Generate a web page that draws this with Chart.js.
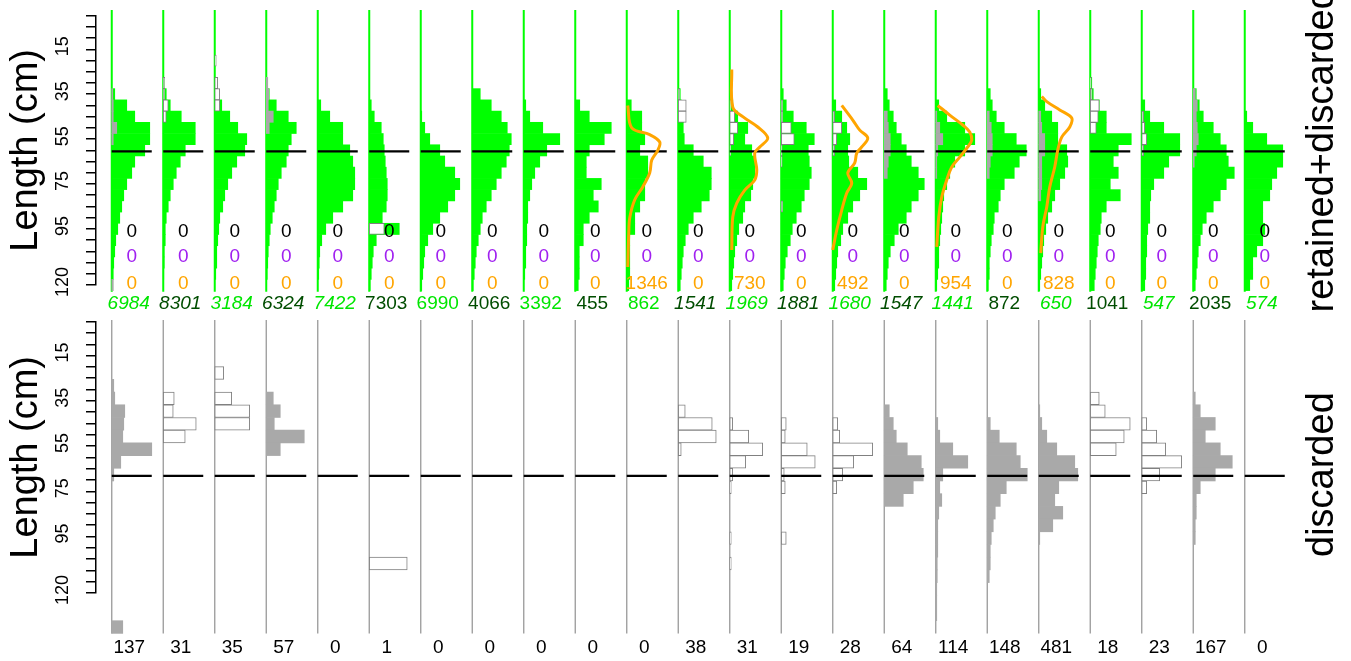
<!DOCTYPE html>
<html>
<head>
<meta charset="utf-8">
<script src="https://cdn.jsdelivr.net/npm/chart.js@4.4.1/dist/chart.umd.min.js"></script>
<style>
  html, body { margin: 0; padding: 0; background: #fff; }
  #wrap { position: relative; width: 1351px; height: 661px; overflow: hidden; }
  canvas { position: absolute; left: 0; }
  #topChart { top: 0; }
  #bottomChart { top: 320px; }
</style>
</head>
<body>
<div id="wrap">
  <canvas id="topChart" width="1351" height="320"></canvas>
  <canvas id="bottomChart" width="1351" height="341"></canvas>
</div>
<script>
// length classes (cm), 5 cm bins
const lengthBins = [20, 25, 30, 35, 40, 45, 50, 55, 60, 65, 70, 75, 80, 85, 90, 95, 100, 105, 110, 115, 120];
const tickLabels = [15, 35, 55, 75, 95, 120];
const refLength = 60.5;

// numbers printed under each column
const totals = [6984, 8301, 3184, 6324, 7422, 7303, 6990, 4066, 3392, 455, 862, 1541, 1969, 1881, 1680, 1547, 1441, 872, 650, 1041, 547, 2035, 574];
const totalItalic = [1,1,1,1,1,0,0,0,0,0,0,1,1,1,1,1,1,0,1,0,1,0,1];
const discards = [137, 31, 35, 57, 0, 1, 0, 0, 0, 0, 0, 38, 31, 19, 28, 64, 114, 148, 481, 18, 23, 167, 0];
const blackCounts = [0,0,0,0,0,0,0,0,0,0,0,0,0,0,0,0,0,0,0,0,0,0,0];
const purpleCounts = [0,0,0,0,0,0,0,0,0,0,0,0,0,0,0,0,0,0,0,0,0,0,0];
const orangeCounts = [0,0,0,0,0,0,0,0,0,0,1346,0,730,0,492,0,954,0,828,0,0,0,0];

// retained+discarded length distribution (%) per column, aligned with lengthBins
const retDisc = [
  [0,0,0,1.2,6,9.2,15.2,15.2,13.2,9.2,8,6,4.8,4,3.2,2.4,1.6,1.2,0.8,0.6,0.4],
  [0,0,0.4,1.2,2.8,7.2,12.8,12.8,8.8,6.8,5.2,4,2.8,2,1.2,0.8,0.8,0.4,0.4,0.2,0],
  [0,0,0,0.4,2.8,6,9.2,12.8,12,8.8,6.8,5.2,4,3.2,2,1.6,1.2,0.8,0.8,0.4,0],
  [0,0,0,1.2,4,8.8,12,10,8.8,8,6,4.8,4,3.2,2.4,1.6,1.2,0.8,0.6,0.4,0],
  [0,0,0,0,1.2,4.8,10,10,12.8,14,14.8,14.8,14,10,6,3.2,1.6,0.8,0.6,0.4,0],
  [0,0,0,0,0.8,2,4.8,5.6,6,6.4,6.8,7.2,7.2,6.8,5.2,12,2.8,1.6,1.2,0.8,0.4],
  [0,0,0,0,0,0.4,1.6,3.6,7.6,9.6,13.6,15.6,13.6,10.8,7.6,4.8,2.8,1.6,1.2,0.8,0.4],
  [0,0,0,3.2,7.6,11.6,14,15.6,14.8,13.6,11.6,9.6,7.6,5.6,4,3.2,2.4,1.6,1.2,0.8,0.4],
  [0,0,0,0,0.8,2.4,7.6,14.4,9.2,6.4,4.4,3.2,2.4,1.6,1.6,1.2,1.2,0.8,0.8,0.4,0],
  [0,0,0,0,1.8,5.6,14.4,11.6,5.6,4.4,4.4,10.4,7.2,9.2,5.6,3.2,3.2,1.6,1.6,1.6,1.2],
  [0,0,0,0,1.8,6,6,7.2,5.2,8.4,8.4,7.2,7.2,5.2,3.2,3.2,1.2,1.2,1.2,1.2,0.8],
  [0,0,0,0.8,1.2,2,2,2.4,6,10,13.2,13.2,12.4,9.2,6,4,2.8,2,1.6,1.2,0.8],
  [0,0,0,0,1.2,3.2,7.2,6,8.8,10,10,9.2,8.4,6,5.2,3.6,2.8,2,1.6,1.2,0.8],
  [0,0,0,0.8,2,4.8,10,13.2,10.8,11.2,12,11.2,9.2,8,6,4.4,3.6,2.4,1.6,1.2,0.8],
  [0,0,0,0,1.2,3.6,5.6,6.8,6,6.4,10,13.6,10.8,8,6,4,3.2,2,1.6,1.2,0.8],
  [0,0,0,1.2,2,3.6,4.8,6.8,8.8,10.8,13.6,16,13.6,10.8,8.8,5.6,4,2.4,1.6,1.2,0.8],
  [0,0,0,0,1.2,4.4,11.6,15.6,11.6,7.6,5.6,4.4,3.2,2.8,2.4,2,1.6,1.2,1.2,0.8,0.4],
  [0,0,0,1.2,2,3.6,6.8,11.6,15.6,12.8,10.8,6.8,5.2,4.4,2.8,2.4,1.6,1.2,0.8,0.8,0.4],
  [0,0,0,0.8,2.4,5.2,7.6,7.6,11.2,11.6,10.4,8.4,6.4,5.2,3.6,2.8,2,1.6,1.2,0.8,0.4],
  [0,0,0.6,1.2,3.6,6.4,6.4,16.4,11.2,9.2,11.2,8,12,6.4,4.4,4,3.2,2.8,2.4,2,1.6],
  [0,0,0,0,1.2,3.2,8.8,15.2,15.2,10.8,8.8,4.8,3.6,3.2,3.2,2.4,2,2,1.6,1.6,1.2],
  [0,0,0,1.2,2.4,4,8,10.8,13.2,14,16.4,13.2,10.8,8,5.2,3.6,2.8,2,1.6,1.2,0.8],
  [0,0,0,0,0,0.8,3.2,8.8,15.2,15.2,12.8,10.8,10,7.2,7.2,8,7.2,4.8,3.2,3.2,2]
];

// discards drawn inside the top panel: [length, %]
const discTop = [
  [[35,0.4],[40,0.6],[45,0.6],[50,2],[55,0.6],[120,0.6]],
  [[30,0.6],[35,0.6],[40,2],[45,1.2]],
  [[20,0.6],[30,1.2],[35,2],[40,2]],
  [[30,0.6],[35,1],[40,0.8],[45,2.8],[50,1.2]],
  [],
  [[95,6]],
  [], [], [], [], [],
  [[35,0.6],[40,3.2],[45,3.2]],
  [[40,0.4],[45,2],[50,3.2],[55,1.6],[60,0.4]],
  [[40,0.6],[45,0.6],[50,4],[55,5.2],[60,0.4],[65,0.4],[85,0.6]],
  [[45,0.8],[50,3.6],[55,1.6],[60,0.8]],
  [[45,1.2],[50,1.6],[55,2.4],[60,2.4],[65,1.6],[70,1.2]],
  [[45,0.4],[50,1.6],[55,2.8],[60,0.8],[65,0.4],[70,0.4]],
  [[45,0.8],[50,1.6],[55,2],[60,2],[65,1.2],[70,0.8]],
  [[45,0.8],[50,1.2],[55,2.4],[60,2.4],[65,1.2],[70,1.2],[75,1.2],[80,0.8]],
  [[30,0.4],[35,0.8],[40,3.6],[45,3.2],[50,2.4]],
  [[45,0.8],[50,1.2],[55,2],[60,0.8]],
  [[35,0.8],[40,1.6],[45,1.2],[50,1.6],[55,2],[60,1.2],[65,0.4]],
  []
];

// discard length distribution (bottom panel): [length, %]
const discBottom = [
  [[25,0.8],[30,1.2],[35,5.2],[40,4.8],[45,4.4],[50,16],[55,3.6],[60,0.8],[120,4.4]],
  [[30,4.4],[35,4],[40,13.2],[45,8.8]],
  [[20,3.6],[30,6.8],[35,14],[40,14]],
  [[30,2.8],[35,5.6],[40,3.2],[45,15.2],[50,5.6]],
  [],
  [[95,15.2]],
  [], [], [], [], [],
  [[35,2.8],[40,13.6],[45,15.2],[50,1.2]],
  [[40,1.2],[45,7.6],[50,13.2],[55,6.4],[60,1.2],[65,0.6],[85,0.6],[95,0.6]],
  [[40,2],[45,1.6],[50,10.4],[55,13.6],[60,1.2],[65,1.6],[85,2]],
  [[40,2],[45,2.8],[50,16],[55,8.4],[60,4],[65,1.6]],
  [[35,2],[40,3.6],[45,4.8],[50,9.2],[55,14.8],[60,15.6],[65,11.6],[70,7.6]],
  [[40,0.8],[45,1.6],[50,6.8],[55,12.8],[60,2.8],[65,1.6],[70,2.4],[75,1.2],[80,0.8],[85,0.8],[90,0.8],[95,0.6],[100,0.6],[105,0.4],[110,0.4],[115,0.4]],
  [[40,1.2],[45,4.8],[50,11.6],[55,13.2],[60,16],[65,7.6],[70,5.2],[75,3.2],[80,2.4],[85,1.6],[90,1.2],[95,1.2],[100,0.8]],
  [[35,0.4],[40,1.2],[45,3.2],[50,7.2],[55,14.4],[60,15.6],[65,8],[70,6.4],[75,9.6],[80,5.6],[85,0.4]],
  [[30,3.6],[35,6],[40,16],[45,13.6],[50,10.4]],
  [[40,2],[45,6],[50,9.6],[55,16],[60,7.2],[65,2]],
  [[30,0.8],[35,2.8],[40,8.8],[45,4.8],[50,10.8],[55,15.6],[60,8.8],[65,2.8],[70,1.2],[75,1.2],[80,0.8],[85,0.8]],
  []
];
// grey filled (true) or white outlined (false) discard bars
const discFilled = [true,false,false,true,true,false,true,true,true,true,true,false,false,false,false,true,true,true,true,false,false,true,true];

// orange curves
const orangeCols = [10, 12, 14, 16, 18];
const orangeLens = [
  [40, 50, 53, 56.3, 60, 64.3, 70, 76.3, 82, 90, 97, 112],
  [24, 40.7, 45, 49.6, 54.5, 58.5, 61.2, 68.8, 73.2, 77.7, 83.5, 89.7, 104.4],
  [40, 46.5, 51, 54.5, 58.5, 61.2, 65.6, 70.1, 74.6, 79, 86.6, 95.5, 104.4],
  [40, 44.3, 48.7, 51.8, 55.4, 58.5, 63, 67.4, 73.2, 80.8, 89.7, 103],
  [36, 38.3, 42, 45.6, 49.6, 54.1, 59.9, 67.4, 76.3, 85.2, 94.2, 105.8]
];
const orangeFreqs = [
  [0.4, 2, 9.2, 13.2, 12.4, 10, 9.2, 6.4, 3.2, 1.2, 0.8, 0.4],
  [0.8, 1.2, 5.2, 11.2, 15.2, 12, 10, 10.8, 10, 6, 2.8, 1.2, 0.8],
  [3.6, 8, 10.8, 14, 11.6, 9.6, 8.8, 6, 7.6, 5.6, 3.6, 1.6, 0],
  [0.8, 5.6, 10.8, 13.6, 14.4, 12.8, 9.6, 6.4, 4.4, 2.4, 1.2, 0.4],
  [1.2, 3.2, 8.4, 13.2, 12.4, 9.2, 7.6, 6.4, 4.4, 3.2, 1.6, 0.8]
];

// layout of the column grid (x units = %)
const COL = 20.6;
const X_MIN = -6.3, X_MAX = 471.3;
const REF_LEN = 16;
const FONT = '"Liberation Sans", Arial, sans-serif';

const colBase = i => i * COL;

function barPoints(pairsList) {
  const pts = [];
  pairsList.forEach((pairs, i) => {
    pairs.forEach(([len, v]) => {
      if (v > 0) pts.push({ y: len, x: [colBase(i), colBase(i) + v] });
    });
  });
  return pts;
}

function barSet(data, yAxisID, bg, border, order) {
  return {
    type: 'bar', indexAxis: 'y', data, yAxisID, order,
    backgroundColor: bg, borderColor: border || bg,
    borderWidth: border ? 1 : 0, borderSkipped: false,
    grouped: false, barPercentage: 1, categoryPercentage: 1, clip: false
  };
}

function lineSet(data, yAxisID, color, width, order, tension) {
  return {
    type: 'line', data, yAxisID, order,
    borderColor: color, borderWidth: width, pointRadius: 0,
    fill: false, tension: tension || 0, clip: false
  };
}

function buildDatasets(panel, yAxisID) {
  const sets = [];
  if (panel === 'top') {
    const totPairs = retDisc.map(arr => lengthBins.map((len, k) => [len, arr[k]]));
    sets.push(barSet(barPoints(totPairs), yAxisID, '#00ff00', null, 5));
  }
  const src = panel === 'top' ? discTop : discBottom;
  sets.push(barSet(barPoints(src.map((p, i) => discFilled[i] ? p : [])), yAxisID, '#a9a9a9', null, 4));
  sets.push(barSet(barPoints(src.map((p, i) => discFilled[i] ? [] : p)), yAxisID, '#ffffff', '#808080', 4));

  totals.forEach((t, i) => {
    const b = colBase(i);
    const top = panel === 'top' ? -2.5 : -1;
    const bottom = panel === 'top' ? 123 : 122.5;
    sets.push(lineSet([{ x: b, y: top }, { x: b, y: bottom }], yAxisID,
      panel === 'top' ? '#00ff00' : '#9a9a9a', panel === 'top' ? 2 : 1.3, 6));
    sets.push(lineSet([{ x: b, y: refLength }, { x: b + REF_LEN, y: refLength }], yAxisID, '#000000', 2.2, 2));
  });

  if (panel === 'top') {
    orangeCols.forEach((c, k) => {
      const pts = orangeLens[k].map((len, j) => ({ x: colBase(c) + orangeFreqs[k][j], y: len }));
      sets.push(lineSet(pts, yAxisID, '#ffa500', 3, 1, 0.35));
    });
  }
  return sets;
}

// pin a hidden linear scale to an exact range
function fixedScale(axis, min, max, reverse) {
  return {
    axis, type: 'linear', display: false, reverse: !!reverse,
    min, max, offset: false, grace: 0, bounds: 'data', beginAtZero: false,
    grid: { offset: false },
    afterDataLimits: s => { s.min = min; s.max = max; },
    afterBuildTicks: s => { s.min = min; s.max = max; }
  };
}

function yAxisOptions() {
  return {
    type: 'linear', position: 'left', reverse: true, min: 0, max: 120,
    offset: false, beginAtZero: false,
    ticks: { stepSize: 5, display: false },
    grid: { drawOnChartArea: false, drawTicks: true, tickLength: 10, color: '#000', lineWidth: 1.5, offset: false },
    border: { display: true, color: '#000', width: 1.5 },
    title: { display: true, text: 'Length (cm)', color: '#000', font: { family: FONT, size: 38 }, padding: { top: 4, bottom: 0 } },
    afterFit: s => { s.width = 96; }
  };
}

function textPlugin(panel) {
  return {
    id: 'panelText' + panel,
    afterDraw(chart) {
      const ctx = chart.ctx;
      const xs = chart.scales.x;
      const ya = chart.scales.y;
      const yd = panel === 'top' ? chart.scales.y : chart.scales.yData;
      ctx.save();
      ctx.textAlign = 'center';
      ctx.textBaseline = 'middle';

      // rotated tick labels
      ctx.fillStyle = '#000';
      ctx.font = '18px ' + FONT;
      tickLabels.forEach(v => {
        ctx.save();
        ctx.translate(63, ya.getPixelForValue(v) - 3);
        ctx.rotate(-Math.PI / 2);
        ctx.fillText(String(v), 0, 0);
        ctx.restore();
      });

      // panel name on the right
      ctx.font = '38px ' + FONT;
      ctx.save();
      ctx.translate(1323, yd.getPixelForValue(60));
      ctx.rotate(-Math.PI / 2);
      ctx.fillText(panel === 'top' ? 'retained+discarded' : 'discarded', 0, 0);
      ctx.restore();

      if (panel === 'top') {
        totals.forEach((t, i) => {
          const cx = xs.getPixelForValue(colBase(i) + 6.8);
          ctx.font = (totalItalic[i] ? 'italic ' : '') + '19px ' + FONT;
          ctx.fillStyle = i % 2 === 0 ? '#00e600' : '#004d00';
          ctx.fillText(String(t), cx, yd.getPixelForValue(128.5));
          const cz = xs.getPixelForValue(colBase(i) + 8);
          ctx.font = '19px ' + FONT;
          ctx.fillStyle = '#000';
          ctx.fillText(String(blackCounts[i]), cz, yd.getPixelForValue(96.5));
          ctx.fillStyle = '#a020f0';
          ctx.fillText(String(purpleCounts[i]), cz, yd.getPixelForValue(107.5));
          ctx.fillStyle = '#ffa500';
          ctx.fillText(String(orangeCounts[i]), cz, yd.getPixelForValue(119.5));
        });
      } else {
        ctx.font = '19px ' + FONT;
        ctx.fillStyle = '#000';
        discards.forEach((d, i) => {
          ctx.fillText(String(d), xs.getPixelForValue(colBase(i) + 7), yd.getPixelForValue(128));
        });
      }
      ctx.restore();
    }
  };
}

const common = {
  responsive: false,
  animation: false,
  events: [],
  plugins: { legend: { display: false }, tooltip: { enabled: false } }
};

new Chart(document.getElementById('topChart'), {
  type: 'bar',
  data: { datasets: buildDatasets('top', 'y') },
  options: Object.assign({}, common, {
    layout: { padding: { top: 15.7, bottom: 35, left: 0, right: 61 } },
    scales: {
      x: fixedScale('x', X_MIN, X_MAX, false),
      y: yAxisOptions()
    }
  }),
  plugins: [textPlugin('top')]
});

new Chart(document.getElementById('bottomChart'), {
  type: 'bar',
  data: { datasets: buildDatasets('bottom', 'yData') },
  options: Object.assign({}, common, {
    layout: { padding: { top: 1.7, bottom: 68, left: 0, right: 61 } },
    scales: {
      x: fixedScale('x', X_MIN, X_MAX, false),
      y: yAxisOptions(),
      yData: Object.assign(fixedScale('y', -0.2, 106.6, true), { position: 'left' })
    }
  }),
  plugins: [textPlugin('bottom')]
});
</script>
</body>
</html>
